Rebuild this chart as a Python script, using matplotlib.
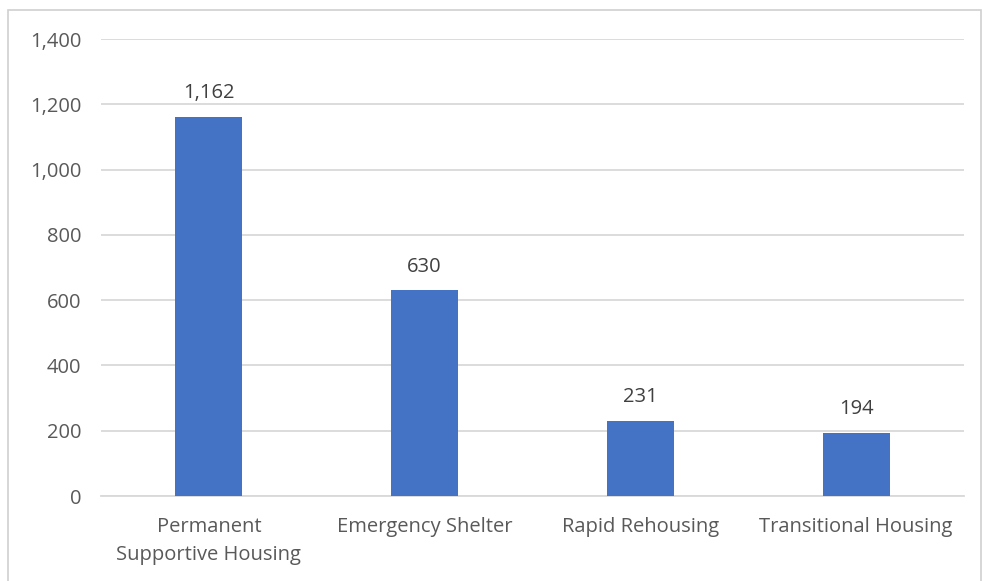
import matplotlib
matplotlib.use("Agg")
import matplotlib.pyplot as plt
from matplotlib.patches import Rectangle

categories = ["Permanent\nSupportive Housing", "Emergency Shelter", "Rapid Rehousing", "Transitional Housing"]
values = [1162, 630, 231, 194]
yticks = [0, 200, 400, 600, 800, 1000, 1200, 1400]

plt.rcParams['font.family'] = ['Open Sans', 'DejaVu Sans']
text_color = "#595959"
bar_color = "#4472C4"
grid_color = "#D9D9D9"
fs = 14.5

W, H = 982, 581
fig = plt.figure(figsize=(W / 100, H / 100), dpi=100)
fig.patch.set_facecolor("white")

# outer chart border
fig.patches.append(Rectangle((8 / W, -0.01), (981 - 8) / W, (H - 10) / H + 0.01,
                             transform=fig.transFigure, fill=False,
                             edgecolor="#D0D0D0", linewidth=1.2))

left, right = 101 / W, 964 / W
bottom, top = 1 - 496 / H, 1 - 39 / H
ax = fig.add_axes([left, bottom, right - left, top - bottom])

x = range(len(categories))
ax.bar(x, values, width=0.31, color=bar_color, zorder=3)
ax.set_xlim(-0.5, len(categories) - 0.5)
ax.set_ylim(0, 1400)
ax.set_yticks(yticks)
ax.set_yticklabels([f"{v:,}" for v in yticks], fontsize=fs, color=text_color)
ax.set_xticks(list(x))
ax.set_xticklabels(categories, fontsize=fs, color=text_color, linespacing=1.55)
ax.tick_params(axis="both", length=0)
ax.tick_params(axis="y", pad=14)
ax.tick_params(axis="x", pad=15)

ax.yaxis.grid(True, color=grid_color, linewidth=1.3, zorder=0)
for s in ["top", "right", "left"]:
    ax.spines[s].set_visible(False)
ax.spines["bottom"].set_color(grid_color)
ax.spines["bottom"].set_linewidth(1.3)

for xi, v in zip(x, values):
    ax.annotate(f"{v:,}", (xi, v), xytext=(0, 9.5), textcoords="offset points",
                ha="center", va="bottom", fontsize=fs, color="#404040")

fig.savefig("out.png", dpi=100, facecolor="white")
